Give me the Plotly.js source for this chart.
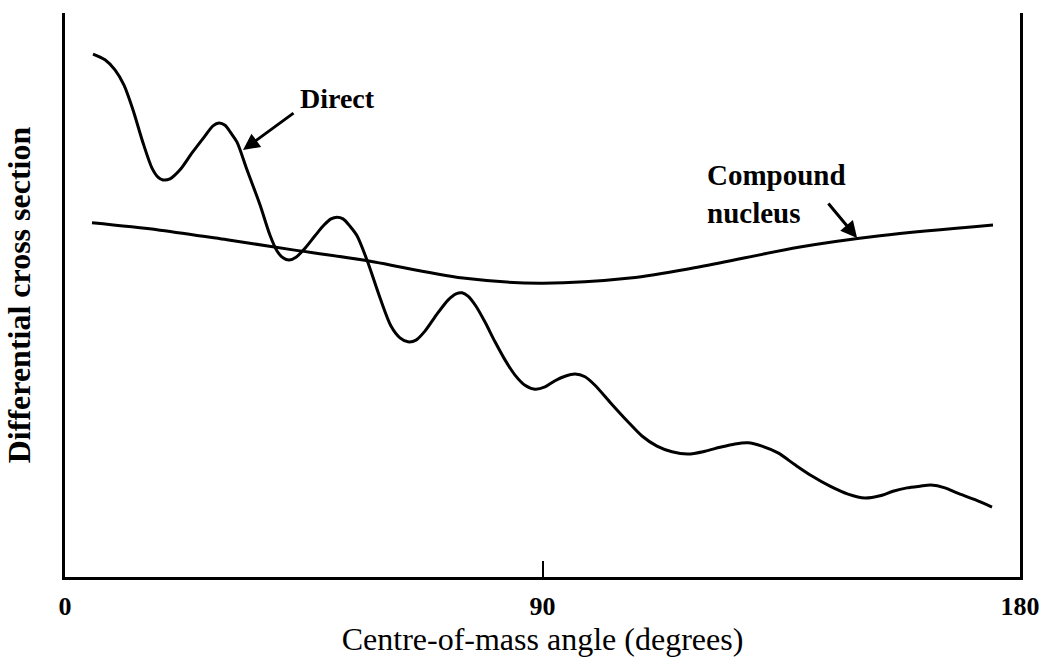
<!DOCTYPE html>
<html>
<head>
<meta charset="utf-8">
<script src="https://cdn.plot.ly/plotly-3.0.1.min.js"></script>
<style>
  html, body { margin: 0; padding: 0; background: #fff; }
  #chart { width: 1039px; height: 665px; }
</style>
</head>
<body>
<div id="chart"></div>
<script>
// Direct reaction: forward-peaked, oscillating angular distribution (arbitrary units)
const directAngle = [5.28, 7.54, 9.42, 11.12, 12.82, 14.70, 16.40, 17.53, 18.47, 19.79,
  21.68, 23.94, 26.39, 27.89, 29.03, 30.16, 31.29, 32.42, 34.30, 36.75,
  38.64, 39.96, 41.09, 42.22, 43.54, 45.24, 47.12, 48.82, 50.14, 51.27,
  52.40, 53.72, 55.04, 56.92, 59.37, 61.44, 63.14, 64.65, 66.16, 67.85,
  70.11, 72.19, 73.70, 74.83, 75.96, 77.47, 79.16, 81.05, 82.93, 84.82,
  86.70, 88.59, 90.47, 92.36, 94.24, 96.12, 98.01, 99.89, 102.72, 105.93,
  108.75, 111.58, 114.41, 117.42, 120.63, 123.45, 126.28, 128.73, 131.37, 134.39,
  137.59, 140.79, 144.19, 147.58, 150.78, 153.61, 156.06, 158.70, 161.15, 163.22,
  165.86, 168.12, 171.52, 174.72];
const directSigma = [9.27, 9.17, 8.99, 8.72, 8.28, 7.70, 7.25, 7.09, 7.04, 7.06,
  7.22, 7.52, 7.82, 8.00, 8.05, 8.01, 7.87, 7.71, 7.22, 6.60,
  6.06, 5.78, 5.66, 5.62, 5.67, 5.83, 6.05, 6.24, 6.35, 6.38,
  6.35, 6.22, 6.05, 5.62, 4.95, 4.45, 4.24, 4.17, 4.20, 4.36,
  4.66, 4.91, 5.02, 5.04, 4.98, 4.80, 4.52, 4.17, 3.85, 3.58,
  3.40, 3.33, 3.37, 3.48, 3.56, 3.60, 3.55, 3.40, 3.10, 2.77,
  2.50, 2.32, 2.22, 2.18, 2.23, 2.30, 2.36, 2.38, 2.32, 2.20,
  1.99, 1.79, 1.61, 1.47, 1.40, 1.44, 1.52, 1.58, 1.61, 1.63,
  1.58, 1.49, 1.37, 1.24];

// Compound nucleus: smooth, nearly symmetric about 90 degrees
const compoundAngle = [5.09, 17.91, 30.53, 42.97, 56.17, 75.02, 89.53, 106.49, 119.68, 138.53, 153.61, 174.91];
const compoundSigma = [6.28, 6.15, 5.98, 5.80, 5.62, 5.30, 5.21, 5.30, 5.50, 5.85, 6.05, 6.24];

const tickValues = [0, 90, 180];
const tickLabels = ['0', '90', '180'];

const serif = 'Liberation Serif, Times New Roman, serif';
const ink = '#000000';

const traces = [
  {
    x: directAngle, y: directSigma, type: 'scatter', mode: 'lines', name: 'Direct',
    line: { color: ink, width: 3, shape: 'spline', smoothing: 0.8 }
  },
  {
    x: compoundAngle, y: compoundSigma, type: 'scatter', mode: 'lines', name: 'Compound nucleus',
    line: { color: ink, width: 3, shape: 'spline', smoothing: 1 }
  }
];

const layout = {
  width: 1039, height: 665,
  margin: { l: 65, r: 19, t: 13, b: 88 },
  paper_bgcolor: '#ffffff', plot_bgcolor: '#ffffff',
  showlegend: false,
  font: { family: serif, color: ink },
  xaxis: {
    range: [0, 180], showgrid: false, zeroline: false,
    showline: true, linecolor: ink, linewidth: 3, mirror: false,
    tickmode: 'array', tickvals: tickValues, ticktext: tickLabels,
    ticks: 'inside', ticklen: 16, tickwidth: 2, tickcolor: ink,
    ticklabeloverflow: 'allow', ticklabelstandoff: 4,
    tickfont: { family: serif, size: 26, color: ink, weight: 'bold' },
    title: { text: 'Centre-of-mass angle (degrees)', standoff: 6,
             font: { family: serif, size: 32, color: ink } },
    automargin: false
  },
  yaxis: {
    range: [0, 10], showgrid: false, zeroline: false,
    showline: true, linecolor: ink, linewidth: 3, mirror: true,
    ticks: '', showticklabels: false,
    title: { text: '<b>Differential cross section</b>', standoff: 22,
             font: { family: serif, size: 32, color: ink } },
    automargin: false
  },
  annotations: [
    { x: 51.27, y: 8.48, xref: 'x', yref: 'y', text: '<b>Direct</b>', showarrow: false,
      font: { family: serif, size: 28, color: ink } },
    { x: 33.55, y: 7.57, xref: 'x', yref: 'y', text: '', showarrow: true,
      ax: 52, ay: -38, arrowhead: 2, arrowsize: 1.1, arrowwidth: 3, arrowcolor: ink },
    { x: 120.6, y: 6.79, xref: 'x', yref: 'y', text: '<b>Compound</b><br><b>nucleus</b>',
      showarrow: false, xanchor: 'left', align: 'left',
      font: { family: serif, size: 29, color: ink } },
    { x: 149.3, y: 6.01, xref: 'x', yref: 'y', text: '', showarrow: true,
      ax: -30, ay: -36, arrowhead: 2, arrowsize: 1.1, arrowwidth: 3, arrowcolor: ink }
  ]
};

Plotly.newPlot('chart', traces, layout, { displayModeBar: false, staticPlot: true });
</script>
</body>
</html>
